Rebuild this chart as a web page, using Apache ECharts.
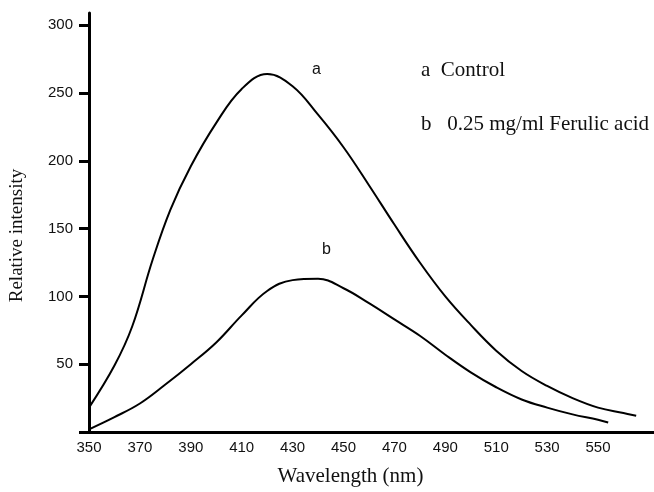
<!DOCTYPE html>
<html>
<head>
<meta charset="utf-8">
<script src="https://cdn.jsdelivr.net/npm/echarts@6/dist/echarts.min.js"></script>
<style>
  html, body { margin: 0; padding: 0; background: #fff; }
  #chart { width: 654px; height: 492px; }
</style>
</head>
<body>
<div id="chart"></div>
<script>
// wavelength (nm) / relative intensity
const controlX = [350, 360, 367, 375, 382, 390, 400, 410, 420, 430, 440, 450, 460, 470, 480, 490, 500, 510, 520, 530, 540, 550, 560, 565];
const controlY = [18, 49, 78, 127, 164, 196, 228, 253, 264, 255, 234, 210, 182, 153, 125, 100, 79, 60, 45, 34, 25, 18, 14, 12];

const ferulicX = [350, 360, 370, 380, 390, 400, 410, 420, 430, 440, 450, 460, 470, 480, 490, 500, 510, 520, 530, 540, 550, 554];
const ferulicY = [2, 11, 21, 35, 50, 66, 86, 104, 112, 113, 106, 95, 83, 71, 57, 44, 33, 24, 18, 13, 9, 7];

const xTicks = [350, 370, 390, 410, 430, 450, 470, 490, 510, 530, 550];
const yTicks = [50, 100, 150, 200, 250, 300];

const legendItems = ['a  Control', 'b   0.25 mg/ml Ferulic acid'];

const serif = '"Liberation Serif", "DejaVu Serif", serif';
const sans = '"Liberation Sans", "DejaVu Sans", sans-serif';

function pairs(xs, ys) {
  return xs.map((x, i) => [x, ys[i]]);
}

const chart = echarts.init(document.getElementById('chart'));

chart.setOption({
  animation: false,
  backgroundColor: '#fff',
  grid: { left: 88, right: 0, top: 13, bottom: 59 },
  xAxis: {
    type: 'value',
    min: 350,
    max: 572,
    interval: 20,
    name: 'Wavelength (nm)',
    nameLocation: 'middle',
    nameGap: 34,
    nameTextStyle: { fontFamily: serif, fontSize: 21, color: '#111', padding: [0, 42, 0, 0] },
    axisLine: { lineStyle: { color: '#000', width: 3 } },
    axisTick: { show: false },
    splitLine: { show: false },
    axisLabel: {
      margin: 8,
      fontFamily: sans,
      fontSize: 15,
      color: '#111',
      showMaxLabel: false,
      formatter: v => (xTicks.indexOf(v) >= 0 ? String(v) : '')
    }
  },
  yAxis: {
    type: 'value',
    min: 0,
    max: 309,
    interval: 50,
    name: 'Relative intensity',
    nameLocation: 'middle',
    nameGap: 62,
    nameTextStyle: { fontFamily: serif, fontSize: 19, color: '#111', padding: [0, 26, 0, 0] },
    axisLine: { show: true, lineStyle: { color: '#000', width: 3 } },
    axisTick: { show: true, length: 10, lineStyle: { color: '#000', width: 3 } },
    splitLine: { show: false },
    axisLabel: {
      margin: 16,
      fontFamily: sans,
      fontSize: 15,
      color: '#111',
      showMaxLabel: false,
      formatter: v => (yTicks.indexOf(v) >= 0 ? String(v) : '')
    }
  },
  series: [
    {
      name: 'Control',
      type: 'line',
      data: pairs(controlX, controlY),
      smooth: 0.4,
      symbol: 'none',
      lineStyle: { color: '#000', width: 2 }
    },
    {
      name: 'Ferulic acid',
      type: 'line',
      data: pairs(ferulicX, ferulicY),
      smooth: 0.4,
      symbol: 'none',
      lineStyle: { color: '#000', width: 2 }
    }
  ],
  graphic: [
    { type: 'text', left: 312, top: 62, style: { text: 'a', font: '16px ' + sans, fill: '#111' } },
    { type: 'text', left: 322, top: 242, style: { text: 'b', font: '16px ' + sans, fill: '#111' } },
    { type: 'text', left: 421, top: 60, style: { text: legendItems[0], font: '21px ' + serif, fill: '#111' } },
    { type: 'text', left: 421, top: 114, style: { text: legendItems[1], font: '21px ' + serif, fill: '#111' } }
  ]
});
</script>
</body>
</html>
